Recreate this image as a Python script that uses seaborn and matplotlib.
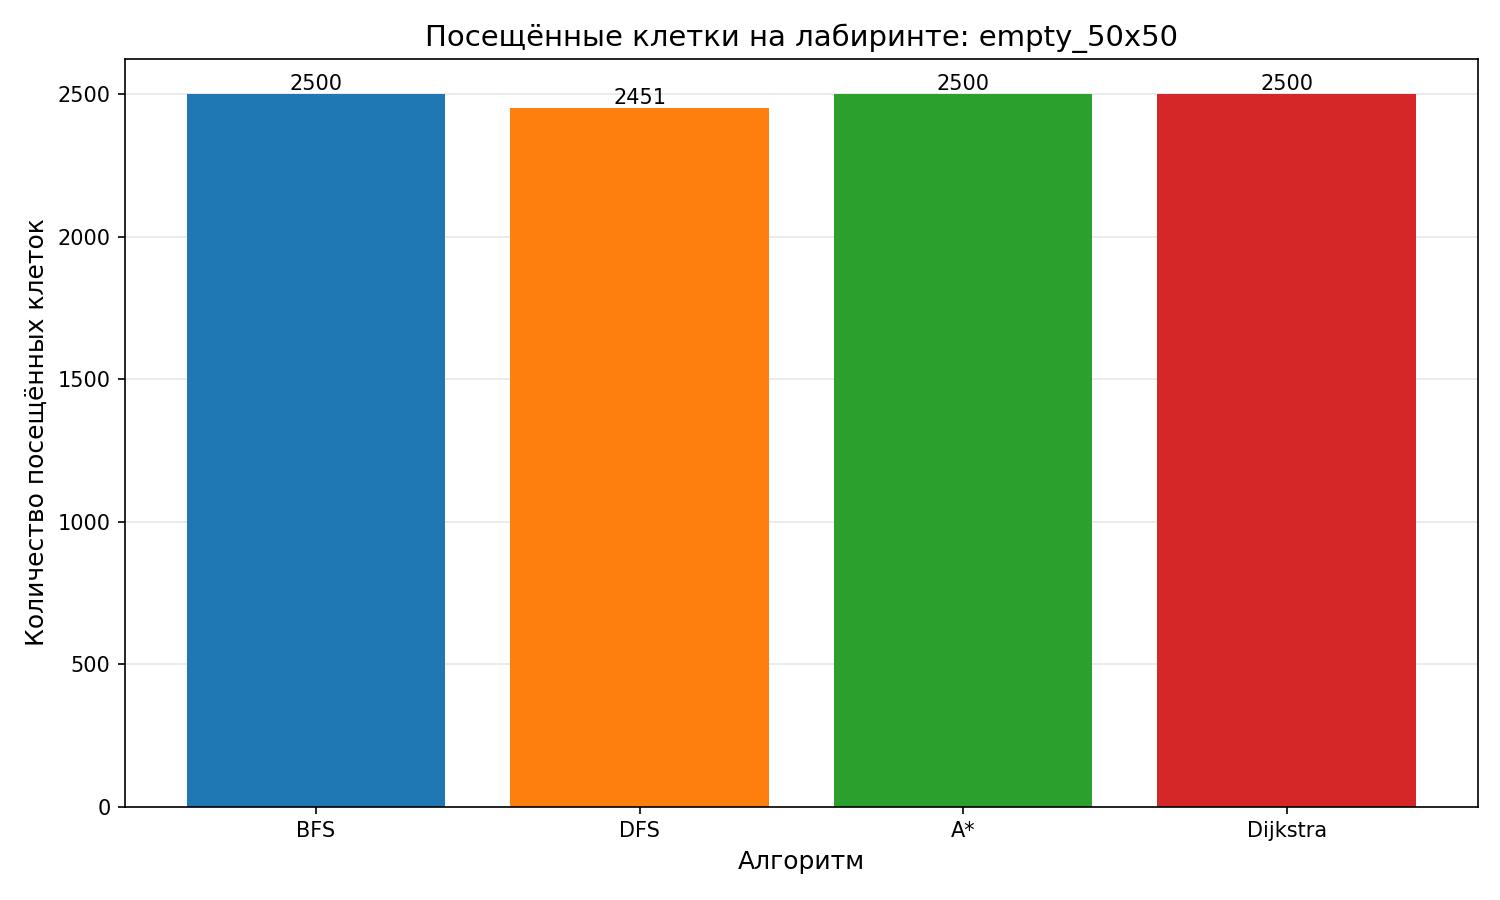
import seaborn as sns
import matplotlib.pyplot as plt
import pandas as pd

algorithms = ['BFS', 'DFS', 'A*', 'Dijkstra']
visited = [2500, 2451, 2500, 2500]
maze_name = 'empty_50x50'

bar_colors = ['#1f77b4', '#ff7f0e', '#2ca02c', '#d62728']

df = pd.DataFrame({'algorithm': algorithms, 'visited': visited})

plt.figure(figsize=(10, 6))
ax = sns.barplot(
    data=df,
    x='algorithm',
    y='visited',
    hue='algorithm',
    palette=bar_colors,
    saturation=1,
    width=0.8,
    legend=False,
)
for container in ax.containers:
    ax.bar_label(container, fontsize=10)

# matplotlib-style 5% margins instead of seaborn's tight category limits
span = len(algorithms) - 1 + 0.8
ax.set_xlim(-0.4 - 0.05 * span, len(algorithms) - 1 + 0.4 + 0.05 * span)

ax.set_title(f'Посещённые клетки на лабиринте: {maze_name}', fontsize=14)
ax.set_xlabel('Алгоритм', fontsize=12)
ax.set_ylabel('Количество посещённых клеток', fontsize=12)
ax.grid(axis='y', alpha=0.3)
ax.set_axisbelow(True)

plt.tight_layout()
plt.savefig('out.png', dpi=150)
plt.close()
